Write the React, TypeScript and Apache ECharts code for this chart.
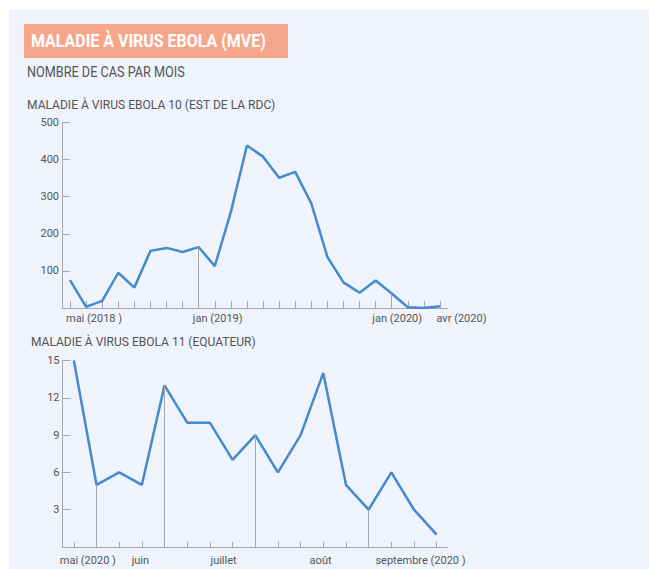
import { useEffect, useRef } from 'react';
import * as echarts from 'echarts';

// ---- Data ----
const ebola10Months = [
  'mai 2018', 'juin 2018', 'juil 2018', 'août 2018', 'sept 2018', 'oct 2018', 'nov 2018', 'déc 2018',
  'jan 2019', 'fév 2019', 'mar 2019', 'avr 2019', 'mai 2019', 'juin 2019', 'juil 2019', 'août 2019',
  'sept 2019', 'oct 2019', 'nov 2019', 'déc 2019', 'jan 2020', 'fév 2020', 'mar 2020', 'avr 2020',
];
const ebola10Cases = [75, 3, 19, 95, 55, 154, 162, 151, 164, 113, 259, 438, 408, 351, 367, 282, 138, 69, 41, 74, 39, 2, 0, 5];
const ebola10TickLabels: Record<number, string> = { 0: 'mai (2018 )', 8: 'jan (2019)', 20: 'jan (2020)', 23: 'avr (2020)' };
const ebola10DropIdx = [8, 20];

const ebola11Weeks = [
  'S19', 'S20', 'S21', 'S22', 'S23', 'S24', 'S25', 'S26', 'S27', 'S28', 'S29', 'S30', 'S31', 'S32', 'S33', 'S34', 'S35',
];
const ebola11Cases = [15, 5, 6, 5, 13, 10, 10, 7, 9, 6, 9, 14, 5, 3, 6, 3, 1];
const ebola11TickLabels: Record<number, string> = { 0: 'mai (2020 )', 3: 'juin', 7: 'juillet', 11: 'août', 15: 'septembre (2020 )' };
const ebola11DropIdx = [1, 4, 8, 13];

const titleMain = 'MALADIE À VIRUS EBOLA (MVE)';
const subtitle = 'NOMBRE DE CAS PAR MOIS';
const chart1Title = 'MALADIE À VIRUS EBOLA 10 (EST DE LA RDC)';
const chart2Title = 'MALADIE À VIRUS EBOLA 11 (EQUATEUR)';

// ---- Layout / style (not data) ----
const LINE_COLOR = '#4589cf';
const AXIS_COLOR = '#a8a8a8';
const TEXT_COLOR = '#555555';
const FONT = 'Roboto, sans-serif';
const shifts1: Record<number, number> = { 0: 24, 8: 19, 20: 5.5, 23: 21.5 };
const shifts2: Record<number, number> = { 0: 14, 3: -1.5, 7: -9, 11: -2.7, 15: 6.5 };

function measure(text: string, font: string): number {
  const c = document.createElement('canvas');
  const ctx = c.getContext('2d')!;
  ctx.font = font;
  return ctx.measureText(text).width;
}

function richFor(shifts: Record<number, number>) {
  const rich: Record<string, any> = {};
  Object.keys(shifts).forEach((k) => {
    const s = shifts[Number(k)];
    rich['s' + k] = {
      fontSize: 11,
      fontFamily: FONT,
      color: TEXT_COLOR,
      lineHeight: 13,
      padding: s >= 0 ? [0, 0, 0, 2 * s] : [0, -2 * s, 0, 0],
    };
  });
  return rich;
}

function fitText(text: string, x: number, y: number, size: number, weight: string, color: string, targetW: number) {
  const w = measure(text, `${weight} ${size}px Roboto`);
  return {
    type: 'text',
    x,
    y,
    scaleX: w > 0 ? targetW / w : 1,
    z: 10,
    style: {
      text,
      x: 0,
      y: 0,
      fill: color,
      font: `${weight} ${size}px Roboto`,
      verticalAlign: 'middle',
      align: 'left',
    },
  };
}

export default function App() {
  const ref = useRef<HTMLDivElement>(null);
  useEffect(() => {
    if (!ref.current) return;
    const chart = echarts.init(ref.current, undefined, { renderer: 'svg' });

    const yAxisCommon = (max: number, interval: number, tickLen: number) => ({
      type: 'value',
      min: 0,
      max,
      interval,
      splitLine: { show: false },
      axisLine: { show: true, lineStyle: { color: AXIS_COLOR, width: 1 } },
      axisTick: { show: true, inside: true, length: tickLen, lineStyle: { color: AXIS_COLOR } },
      axisLabel: {
        margin: 3,
        fontSize: 11,
        fontFamily: FONT,
        color: TEXT_COLOR,
        showMinLabel: false,
        formatter: (v: number) => (v === 0 ? '' : String(v)),
      },
    });

    const xAxisCommon = (
      data: string[],
      labels: Record<number, string>,
      shifts: Record<number, number>,
      tickLen: number,
      margin: number,
    ) => ({
      type: 'category',
      data,
      boundaryGap: true,
      axisLine: { show: true, lineStyle: { color: AXIS_COLOR, width: 1 } },
      axisTick: { show: true, inside: true, alignWithLabel: true, interval: 0, length: tickLen, lineStyle: { color: AXIS_COLOR } },
      axisLabel: {
        interval: 0,
        margin,
        align: 'center',
        hideOverlap: false,
        formatter: (_v: string, i: number) => (labels[i] != null ? `{s${i}|${labels[i]}}` : ''),
        rich: richFor(shifts),
      },
      splitLine: { show: false },
    });

    const dropLines = (names: string[], values: number[], idx: number[]) =>
      idx.map((i) => [{ coord: [names[i], 0] }, { coord: [names[i], values[i]] }]);

    chart.setOption({
      animation: false,
      backgroundColor: '#ffffff',
      graphic: [
        { type: 'rect', z: -100, shape: { x: 9, y: 10, width: 640, height: 559 }, style: { fill: '#eff3fb' } },
        { type: 'rect', z: 5, shape: { x: 24, y: 24, width: 264, height: 34 }, style: { fill: '#f8a68b' } },
        fitText(titleMain, 31, 41, 18, 'bold', '#ffffff', 235),
        fitText(subtitle, 27, 72, 14, 'normal', TEXT_COLOR, 158),
        fitText(chart1Title, 27, 105.5, 12, 'normal', TEXT_COLOR, 249),
        fitText(chart2Title, 31, 342, 12, 'normal', TEXT_COLOR, 225),
      ],
      grid: [
        { left: 62, right: 201, top: 122.5, height: 185.5 },
        { left: 62.5, right: 201, top: 360.5, height: 186.5 },
      ],
      xAxis: [
        { gridIndex: 0, ...xAxisCommon(ebola10Months, ebola10TickLabels, shifts1, 7, 4) },
        { gridIndex: 1, ...xAxisCommon(ebola11Weeks, ebola11TickLabels, shifts2, 5, 7) },
      ],
      yAxis: [
        { gridIndex: 0, ...yAxisCommon(500, 100, 8) },
        { gridIndex: 1, ...yAxisCommon(15, 3, 8) },
      ],
      series: [
        {
          type: 'line',
          xAxisIndex: 0,
          yAxisIndex: 0,
          data: ebola10Cases,
          symbol: 'none',
          lineStyle: { color: LINE_COLOR, width: 2.5 },
          itemStyle: { color: LINE_COLOR },
          markLine: {
            silent: true,
            symbol: ['none', 'none'],
            label: { show: false },
            lineStyle: { color: AXIS_COLOR, width: 1, type: 'solid' },
            data: dropLines(ebola10Months, ebola10Cases, ebola10DropIdx),
          },
        },
        {
          type: 'line',
          xAxisIndex: 1,
          yAxisIndex: 1,
          data: ebola11Cases,
          symbol: 'none',
          lineStyle: { color: LINE_COLOR, width: 2.5 },
          itemStyle: { color: LINE_COLOR },
          markLine: {
            silent: true,
            symbol: ['none', 'none'],
            label: { show: false },
            lineStyle: { color: AXIS_COLOR, width: 1, type: 'solid' },
            data: dropLines(ebola11Weeks, ebola11Cases, ebola11DropIdx),
          },
        },
      ],
    });
    return () => chart.dispose();
  }, []);
  return <div ref={ref} style={{ position: 'fixed', left: 0, top: 0, width: 649, height: 569 }} />;
}
